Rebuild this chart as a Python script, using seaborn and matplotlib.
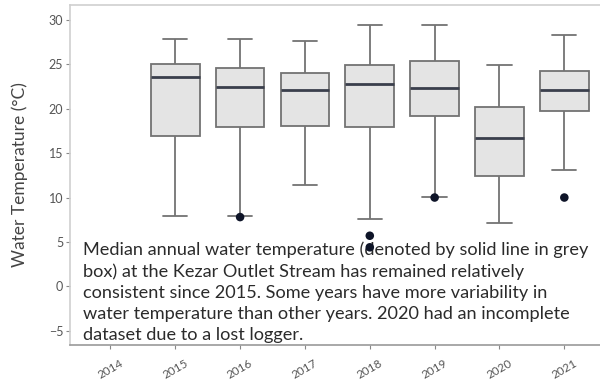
"""
Kezar Outlet Stream annual water temperature box plots.
"""

import numpy as np
import pandas as pd
import matplotlib
matplotlib.use('Agg')
import matplotlib.pyplot as plt
import seaborn as sns

sns.set_style('white')
plt.rcParams['font.family'] = ['Lato', 'DejaVu Sans']

# ── Data ──────────────────────────────────────────────────────────────────
years = ['2014', '2015', '2016', '2017', '2018', '2019', '2020', '2021']
box_years = ['2015', '2016', '2017', '2018', '2019', '2020', '2021']
whisk_lo = [7.9, 7.9, 11.4, 7.6, 10.1, 7.1, 13.1]
q1 = [16.9, 17.9, 18.1, 17.9, 19.2, 12.4, 19.7]
median = [23.6, 22.4, 22.1, 22.8, 22.3, 16.7, 22.1]
q3 = [25.0, 24.6, 24.0, 24.9, 25.4, 20.2, 24.2]
whisk_hi = [27.8, 27.8, 27.6, 29.4, 29.4, 24.9, 28.3]

outlier_years = ['2016', '2018', '2018', '2019', '2021']
outlier_vals = [7.8, 5.7, 4.4, 10.0, 10.0]

CAPTION = ("Median annual water temperature (denoted by solid line in grey\n"
           "box) at the Kezar Outlet Stream has remained relatively\n"
           "consistent since 2015. Some years have more variability in\n"
           "water temperature than other years. 2020 had an incomplete\n"
           "dataset due to a lost logger.")

# five points per year -> quartiles land exactly on the stored values
rows = []
for i, y in enumerate(box_years):
    for v in (whisk_lo[i], q1[i], median[i], q3[i], whisk_hi[i]):
        rows.append({'year': y, 'temp': v})
df = pd.DataFrame(rows)
out_df = pd.DataFrame({'year': outlier_years, 'temp': outlier_vals})

# ── Figure ────────────────────────────────────────────────────────────────
fig = plt.figure(figsize=(6.0, 3.86), dpi=100)
ax = fig.add_axes([0.117, 0.106, 0.883, 0.882])

edge = '#737373'
sns.boxplot(data=df, x='year', y='temp', order=years, whis=(0, 100),
            width=0.75, color='#e4e4e4', linecolor=edge, linewidth=1.3,
            showfliers=False, ax=ax,
            medianprops={'color': '#3a3f4c', 'linewidth': 2.0})
sns.scatterplot(data=out_df, x='year', y='temp', color='#0e1428', s=38,
                edgecolor='none', ax=ax, zorder=6)

ax.set_xlim(-0.62, 7.55)
ax.set_ylim(-6.6, 31.7)
ax.set_yticks([-5, 0, 5, 10, 15, 20, 25, 30])
ax.set_xlabel('')
ax.set_ylabel('Water Temperature (°C)', fontsize=12.5, color='#444444')
ax.yaxis.set_label_coords(-0.08, 0.5)

for side in ['top', 'left']:
    ax.spines[side].set_color('#cfcfcf')
    ax.spines[side].set_linewidth(1.2)
ax.spines['bottom'].set_color('#9a9a9a')
ax.spines['bottom'].set_linewidth(1.2)
ax.spines['right'].set_visible(False)

ax.tick_params(axis='y', length=3, width=0.8, color='#888888',
               labelsize=9, labelcolor='#555555', pad=2, left=True)
ax.tick_params(axis='x', length=3, width=0.8, color='#888888',
               labelsize=8.5, labelcolor='#555555', pad=6, bottom=True)
for lbl in ax.get_xticklabels():
    lbl.set_rotation(30)

ax.text(0.024, 0.303, CAPTION, transform=ax.transAxes, ha='left', va='top',
        fontsize=13.1, color='#2b2b2b', linespacing=1.38, zorder=5,
        bbox=dict(facecolor='white', edgecolor='none', pad=0.5))

fig.savefig('out.png', dpi=100)
plt.close(fig)
